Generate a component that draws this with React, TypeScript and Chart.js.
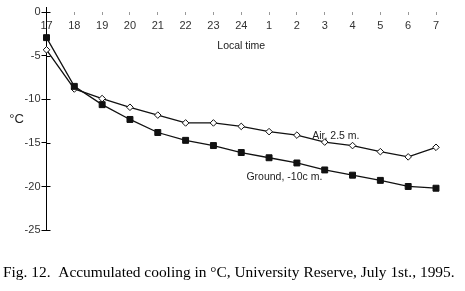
import React, { useEffect, useRef } from "react";
import { Chart, registerables } from "chart.js";

Chart.register(...registerables);

const hours = ["17", "18", "19", "20", "21", "22", "23", "24", "1", "2", "3", "4", "5", "6", "7"];
const groundTemps = [-2.9, -8.5, -10.6, -12.3, -13.8, -14.7, -15.3, -16.1, -16.7, -17.3, -18.1, -18.7, -19.3, -20.0, -20.2];
const airTemps = [-4.3, -8.8, -9.9, -10.9, -11.8, -12.7, -12.7, -13.1, -13.7, -14.1, -14.9, -15.3, -16.0, -16.6, -15.5];
const yTicks = [0, -5, -10, -15, -20, -25];
const caption = "Fig. 12.  Accumulated cooling in \u00B0C, University Reserve, July 1st., 1995.";

const SANS = "'Liberation Sans', Arial, sans-serif";
const SERIF = "'Liberation Serif', 'Times New Roman', serif";

const annotations = {
  id: "annotations",
  afterDraw(chart: any) {
    const { ctx, scales, chartArea } = chart;
    const x = scales.x;
    const y = scales.y;
    ctx.save();
    // inner part of y ticks
    ctx.strokeStyle = "#000";
    ctx.lineWidth = 1;
    yTicks.forEach((v) => {
      const py = Math.round(y.getPixelForValue(v)) + 0.5;
      ctx.beginPath();
      ctx.moveTo(chartArea.left, py);
      ctx.lineTo(chartArea.left + 4, py);
      ctx.stroke();
    });
    ctx.fillStyle = "#222";
    ctx.textBaseline = "middle";
    ctx.textAlign = "center";
    ctx.font = `10.5px ${SANS}`;
    ctx.fillText("Local time", x.getPixelForValue(7), y.getPixelForValue(-3.9));
    ctx.fillText("Air, 2.5 m.", x.getPixelForValue(10.4), y.getPixelForValue(-14.25));
    ctx.fillText("Ground, -10c m.", x.getPixelForValue(8.55), y.getPixelForValue(-18.9));
    ctx.font = `13px ${SANS}`;
    ctx.fillText("\u00B0C", chartArea.left - 30, y.getPixelForValue(-12.3));
    // caption
    ctx.fillStyle = "#000";
    ctx.textAlign = "left";
    ctx.font = `16px ${SERIF}`;
    const w = ctx.measureText(caption).width;
    const target = 452;
    const size = 16 * target / w;
    ctx.font = `${size.toFixed(2)}px ${SERIF}`;
    ctx.fillText(caption, 3, chartArea.bottom + 43);
    ctx.restore();
  },
};

export default function App() {
  const ref = useRef<HTMLCanvasElement | null>(null);
  useEffect(() => {
    if (!ref.current) return;
    const chart = new Chart(ref.current, {
      type: "line",
      data: {
        labels: hours,
        datasets: [
          {
            label: "Ground, -10c m.",
            data: groundTemps,
            borderColor: "#111",
            borderWidth: 1.3,
            pointStyle: "rect",
            pointRadius: 4.2,
            pointBackgroundColor: "#111",
            pointBorderColor: "#111",
            pointBorderWidth: 1,
            tension: 0,
          },
          {
            label: "Air, 2.5 m.",
            data: airTemps,
            borderColor: "#111",
            borderWidth: 1.3,
            pointStyle: "rectRot",
            pointRadius: 3.3,
            pointBackgroundColor: "#fff",
            pointBorderColor: "#111",
            pointBorderWidth: 1,
            tension: 0,
          },
        ],
      },
      options: {
        responsive: false,
        animation: false,
        layout: { padding: { left: 3, right: 29, top: 7, bottom: 61 } },
        plugins: {
          legend: { display: false },
          tooltip: { enabled: false },
          title: { display: false },
        },
        scales: {
          x: {
            type: "category",
            position: { y: 0 } as any,
            offset: false,
            grid: { drawOnChartArea: false, drawTicks: true, tickLength: 3, color: "#999" },
            border: { display: false },
            ticks: {
              color: "#333",
              font: { family: SANS, size: 11 },
              padding: 4,
              maxRotation: 0,
              autoSkip: false,
            },
          },
          y: {
            type: "linear",
            min: -25,
            max: 0.55,
            afterFit: (s: any) => {
              s.width = 43.5;
            },
            grid: { drawOnChartArea: false, drawTicks: true, tickLength: 5, color: "#000" },
            border: { display: true, color: "#000", width: 1 },
            ticks: {
              stepSize: 5,
              includeBounds: false,
              color: "#333",
              font: { family: SANS, size: 11 },
              padding: 1,
            },
          },
        },
      },
      plugins: [annotations],
    });
    return () => chart.destroy();
  }, []);
  return (
    <div style={{ position: "absolute", left: 0, top: 0, width: 465, height: 291, background: "#fff" }}>
      <canvas ref={ref} width={465} height={291} />
    </div>
  );
}
